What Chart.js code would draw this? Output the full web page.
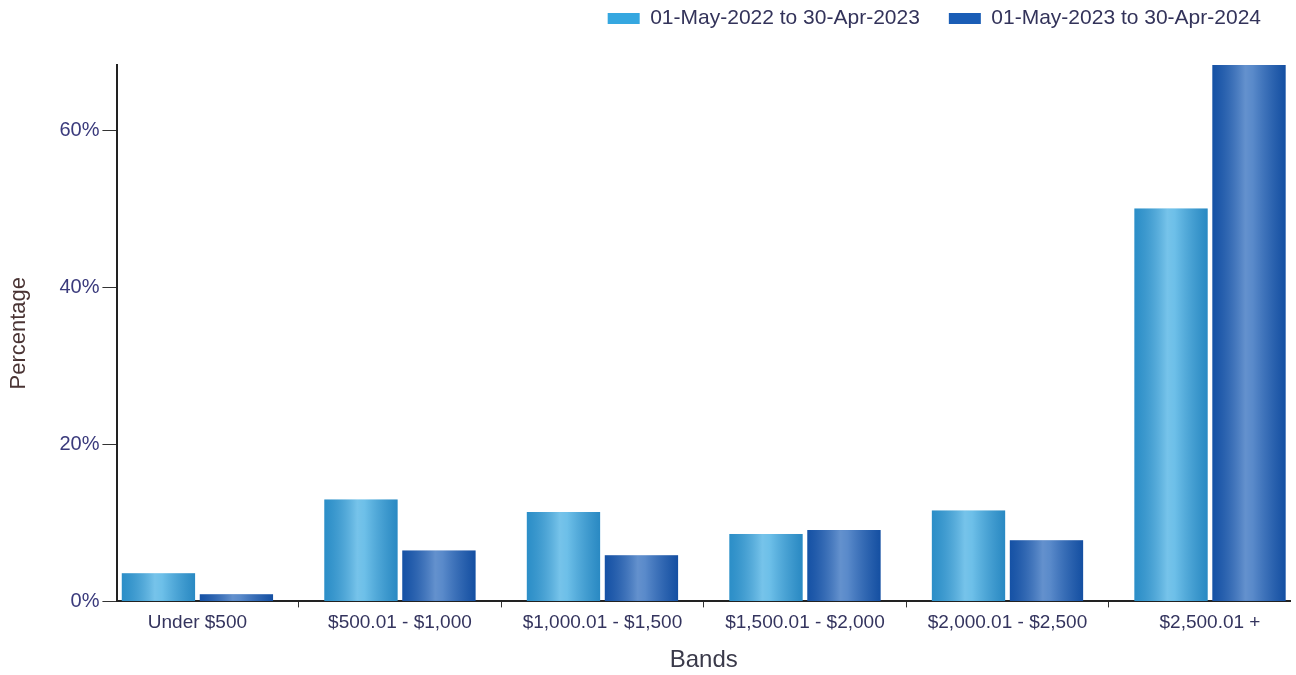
<!DOCTYPE html>
<html>
<head>
<meta charset="utf-8">
<script src="https://cdn.jsdelivr.net/npm/chart.js@4/dist/chart.umd.min.js"></script>
<style>
  html, body { margin: 0; padding: 0; background: #fff; }
  #wrap { width: 1296px; height: 675px; position: relative; }
</style>
</head>
<body>
<div id="wrap"><canvas id="bandsChart"></canvas></div>
<script>
const bands = ['Under $500', '$500.01 - $1,000', '$1,000.01 - $1,500', '$1,500.01 - $2,000', '$2,000.01 - $2,500', '$2,500.01 +'];
const period1Label = '01-May-2022 to 30-Apr-2023';
const period2Label = '01-May-2023 to 30-Apr-2024';
const period1Values = [3.6, 13.0, 11.4, 8.6, 11.6, 50.1];
const period2Values = [0.9, 6.5, 5.9, 9.1, 7.8, 68.4];
const yTicks = [0, 20, 40, 60];

const fontFamily = '"Liberation Sans", Arial, sans-serif';

// soft cylinder shading laid over each bar
const barShine = {
    id: 'barShine',
    afterDatasetsDraw(chart) {
        const ctx = chart.ctx;
        ctx.save();
        chart.data.datasets.forEach((ds, di) => {
            const meta = chart.getDatasetMeta(di);
            meta.data.forEach(bar => {
                const { x, y, base, width } = bar.getProps(['x', 'y', 'base', 'width'], true);
                const left = x - width / 2;
                const g = ctx.createLinearGradient(left, 0, left + width, 0);
                g.addColorStop(0, 'rgba(0, 30, 90, 0.18)');
                g.addColorStop(0.45, 'rgba(255, 255, 255, 0.32)');
                g.addColorStop(0.55, 'rgba(255, 255, 255, 0.28)');
                g.addColorStop(1, 'rgba(0, 30, 90, 0.22)');
                ctx.fillStyle = g;
                ctx.fillRect(left, y, width, base - y);
            });
        });
        ctx.restore();
    }
};

// leave more room between the legend and the plot
const legendGap = {
    id: 'legendGap',
    beforeInit(chart) {
        if (!chart.legend) return;
        const fit = chart.legend.fit;
        chart.legend.fit = function () {
            fit.call(this);
            this.height += 26;
        };
    }
};

const ctx = document.getElementById('bandsChart').getContext('2d');
new Chart(ctx, {
    type: 'bar',
    data: {
        datasets: [
            {
                label: period1Label,
                data: period1Values.map((v, i) => ({ x: i, y: v })),
                backgroundColor: '#35a7e0',
                borderWidth: 0
            },
            {
                label: period2Label,
                data: period2Values.map((v, i) => ({ x: i, y: v })),
                backgroundColor: '#1a5db6',
                borderWidth: 0
            }
        ]
    },
    plugins: [barShine, legendGap],
    options: {
        responsive: true,
        maintainAspectRatio: false,
        animation: false,
        categoryPercentage: 0.77,
        barPercentage: 0.94,
        layout: { padding: { top: -21, right: 6, left: 6, bottom: 0 } },
        plugins: {
            legend: {
                position: 'top',
                align: 'end',
                labels: {
                    boxWidth: 32,
                    boxHeight: 11,
                    color: '#33335a',
                    font: { family: fontFamily, size: 21 },
                    padding: 29
                }
            },
            tooltip: { enabled: false }
        },
        scales: {
            x: {
                type: 'linear',
                min: -0.395,
                max: 5.395,
                offset: false,
                border: { color: '#222', width: 2 },
                grid: { drawOnChartArea: false, drawTicks: true, tickLength: 6, color: '#333' },
                ticks: {
                    stepSize: 1,
                    includeBounds: false,
                    autoSkip: false,
                    maxRotation: 0,
                    padding: 4,
                    color: '#34345e',
                    font: { family: fontFamily, size: 19 },
                    callback: v => bands[v] !== undefined ? bands[v] : ''
                },
                title: {
                    display: true,
                    text: 'Bands',
                    color: '#3a3a4a',
                    font: { family: fontFamily, size: 24 },
                    padding: { top: 8, bottom: 0 }
                }
            },
            y: {
                min: 0,
                max: 68.4,
                border: { color: '#222', width: 2 },
                grid: { drawOnChartArea: false, drawTicks: true, tickLength: 15, color: '#333' },
                afterBuildTicks: scale => { scale.ticks = yTicks.map(v => ({ value: v })); },
                ticks: {
                    padding: 3,
                    color: '#3a3a7c',
                    font: { family: fontFamily, size: 20 },
                    callback: v => v + '%'
                },
                title: {
                    display: true,
                    text: 'Percentage',
                    color: '#4a3434',
                    font: { family: fontFamily, size: 22 },
                    padding: { top: 0, bottom: 24 }
                }
            }
        }
    }
});
</script>
</body>
</html>
